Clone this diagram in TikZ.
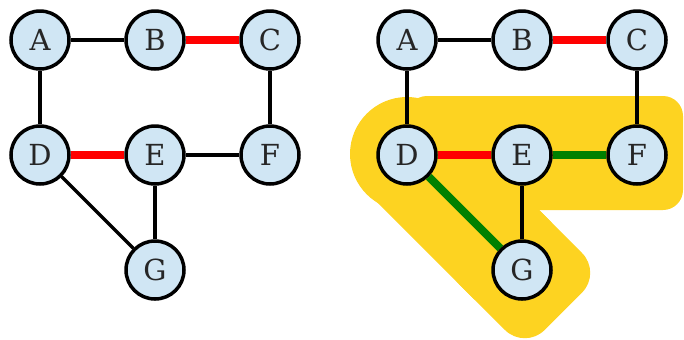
\documentclass[tikz,border=0pt]{standalone}
\usepackage{fontspec}
\setmainfont{DejaVu Serif}
\definecolor{hlyellow}{HTML}{FDD321}
\definecolor{nodeblue}{HTML}{D0E6F4}
\definecolor{edgered}{HTML}{FF0000}
\definecolor{edgegreen}{HTML}{008000}
\begin{document}
\begin{tikzpicture}[x=0.5pt,y=-0.5pt,
  vert/.style={circle,draw=black,line width=1.75pt,fill=nodeblue,minimum size=29pt,inner sep=0pt,font=\fontsize{14.5}{15}\selectfont,text=black!85},
  plain/.style={draw=black,line width=1.6pt},
  redge/.style={draw=edgered,line width=4pt},
  gedge/.style={draw=edgegreen,line width=4pt}]
\useasboundingbox (0,0) rectangle (684,339);
% highlight
\fill[hlyellow] (407,154) circle (57);
\fill[hlyellow,rounded corners=10] (407,96) rectangle (683,210);
% diagonal band: sharp start part, rounded far end
\fill[hlyellow] (368.5,193.5) -- (445.5,116.5) -- (551.6,222.6) -- (474.6,299.6) -- cycle;
\fill[hlyellow,rounded corners=14] (439.2,264.2) -- (516.2,187.2) -- (601.8,272.8) -- (524.8,349.8) -- cycle;
% left graph
\node[vert] (A) at (40,40) {A};
\node[vert] (B) at (155,40) {B};
\node[vert] (C) at (270,40) {C};
\node[vert] (D) at (40,155) {D};
\node[vert] (E) at (155,155) {E};
\node[vert] (F) at (270,155) {F};
\node[vert] (G) at (155,270) {G};
% right graph
\node[vert] (A2) at (407,40) {A};
\node[vert] (B2) at (522,40) {B};
\node[vert] (C2) at (637,40) {C};
\node[vert] (D2) at (407,155) {D};
\node[vert] (E2) at (522,155) {E};
\node[vert] (F2) at (637,155) {F};
\node[vert] (G2) at (522,270) {G};
% edges
\draw[plain] (A) -- (B);
\draw[redge] (B) -- (C);
\draw[plain] (A) -- (D);
\draw[plain] (C) -- (F);
\draw[redge] (D) -- (E);
\draw[plain] (E) -- (F);
\draw[plain] (D) -- (G);
\draw[plain] (E) -- (G);
\draw[plain] (A2) -- (B2);
\draw[redge] (B2) -- (C2);
\draw[plain] (A2) -- (D2);
\draw[plain] (C2) -- (F2);
\draw[redge] (D2) -- (E2);
\draw[gedge] (E2) -- (F2);
\draw[gedge] (D2) -- (G2);
\draw[plain] (E2) -- (G2);
\end{tikzpicture}
\end{document}
